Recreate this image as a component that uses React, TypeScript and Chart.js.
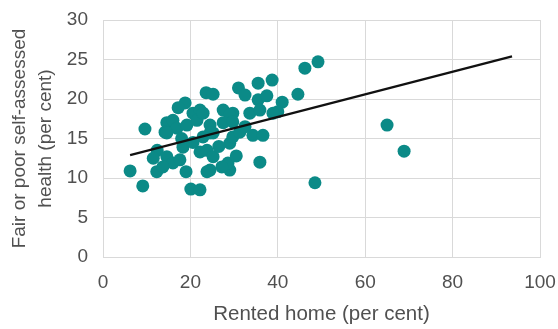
import React, { useEffect, useRef } from "react";
import { Chart, registerables } from "chart.js";

Chart.register(...registerables);

const rentedPct: number[] = [
  6.2, 9.1, 9.6, 12.3, 19.0, 20.1, 22.2, 18.8, 17.2, 23.6,
  25.2, 31.0, 32.5, 35.5, 38.7, 35.5, 37.5, 41.0, 44.6, 46.2,
  49.2, 40.0, 29.7, 65.0, 68.9, 48.5, 35.9, 24.5, 29.0, 34.3,
  36.6, 14.6, 16.0, 20.6, 22.2, 14.2, 16.9, 19.2, 21.5, 22.9,
  27.5, 29.0, 33.6, 35.9, 38.9, 24.5, 27.5, 29.7, 25.2, 14.6,
  12.4, 14.6, 16.0, 13.7, 18.3, 17.6, 23.8, 22.2, 23.8, 25.2,
  29.0, 28.6, 27.2, 29.7, 31.3, 22.9, 24.5, 20.6, 26.5, 32.5,
  18.0, 30.5, 11.5,
];
const fairPoorPct: number[] = [
  10.9, 9.0, 16.2, 10.8, 10.8, 8.6, 8.5, 19.5, 18.9, 20.8,
  20.6, 21.4, 20.5, 22.0, 22.4, 19.9, 20.4, 19.6, 20.6, 23.9,
  24.7, 18.4, 18.2, 16.7, 13.4, 9.4, 12.0, 11.0, 11.0, 15.4,
  15.4, 17.0, 17.3, 18.2, 18.6, 15.8, 16.3, 16.7, 17.3, 18.2,
  18.6, 18.0, 18.2, 18.6, 18.2, 16.7, 17.0, 17.1, 15.7, 15.7,
  13.5, 12.7, 11.9, 11.4, 13.9, 12.3, 10.8, 13.3, 13.5, 12.7,
  14.4, 11.9, 11.4, 15.2, 15.8, 15.2, 15.7, 14.5, 14.0, 16.5,
  15.0, 12.8, 12.5,
];
const trendX: number[] = [6.2, 93.6];
const trendY: number[] = [12.9, 25.4];

const xTicks: number[] = [0, 20, 40, 60, 80, 100];
const yTicks: number[] = [0, 5, 10, 15, 20, 25, 30];

const xTitle = "Rented home (per cent)";
const yTitle = ["Fair or poor self-assessed", "health (per cent)"];

export default function App() {
  const ref = useRef<HTMLCanvasElement | null>(null);
  useEffect(() => {
    if (!ref.current) return;
    const family = "'Liberation Sans', Arial, sans-serif";
    const font = { family, size: 19 };
    const textColor = "#505050";
    const chart = new Chart(ref.current, {
      type: "scatter",
      data: {
        datasets: [
          {
            type: "line",
            data: trendX.map((x, i) => ({ x, y: trendY[i] })),
            borderColor: "#111111",
            borderWidth: 2.2,
            pointRadius: 0,
            fill: false,
            order: 0,
          } as any,
          {
            type: "scatter",
            data: rentedPct.map((x, i) => ({ x, y: fairPoorPct[i] })),
            backgroundColor: "#0b8a87",
            borderWidth: 0,
            pointRadius: 6.5,
            order: 1,
          },
        ],
      },
      options: {
        animation: false,
        responsive: false,
        maintainAspectRatio: false,
        layout: { padding: { left: 0, right: 18, top: 20, bottom: 0 } },
        plugins: { legend: { display: false }, tooltip: { enabled: false } },
        scales: {
          x: {
            type: "linear",
            min: 0,
            max: 100,
            afterBuildTicks: (s: any) => {
              s.ticks = xTicks.map((v) => ({ value: v }));
            },
            afterFit: (s: any) => {
              s.height = 72;
              s.paddingLeft = 0;
              s.paddingRight = 0;
            },
            grid: { color: "#d9d9d9", lineWidth: 1, drawTicks: false },
            border: { color: "#d9d9d9" },
            ticks: { color: textColor, font, padding: 14 },
            title: {
              display: true,
              text: xTitle,
              color: textColor,
              font: { family, size: 20.5 },
              padding: { top: 0, bottom: 2 },
            },
          },
          y: {
            type: "linear",
            min: 0,
            max: 30,
            afterBuildTicks: (s: any) => {
              s.ticks = yTicks.map((v) => ({ value: v }));
            },
            afterFit: (s: any) => {
              s.width = 103;
              s.paddingTop = 0;
              s.paddingBottom = 0;
            },
            grid: { color: "#d9d9d9", lineWidth: 1, drawTicks: false },
            border: { color: "#d9d9d9" },
            ticks: { color: textColor, font, padding: 15 },
            title: {
              display: true,
              text: yTitle,
              color: textColor,
              font: { ...font, lineHeight: 1.4 },
              padding: { top: 6, bottom: 0 },
            },
          },
        },
      },
    });
    return () => chart.destroy();
  }, []);
  return (
    <div style={{ position: "fixed", left: 0, top: 0, width: 558, height: 329, background: "#fff" }}>
      <canvas ref={ref} width={558} height={329} style={{ width: 558, height: 329 }} />
    </div>
  );
}
